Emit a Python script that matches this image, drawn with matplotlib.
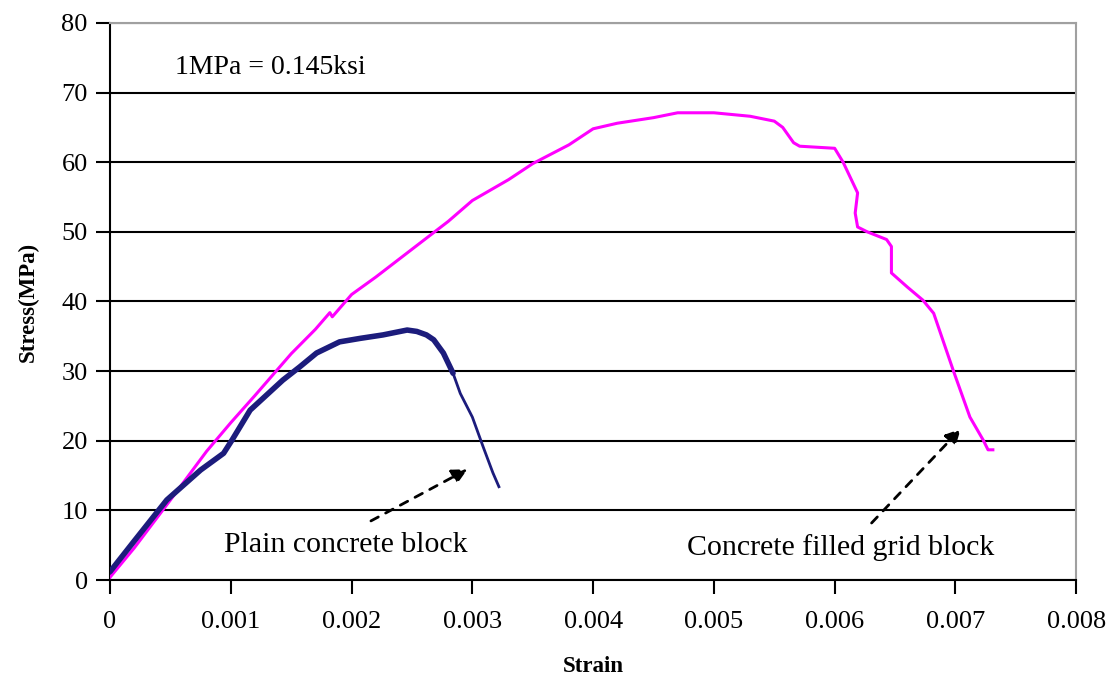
#stress strain curves of concrete blocks
import matplotlib
matplotlib.use("Agg")
import matplotlib.pyplot as plt

#concrete filled grid block
grid_strain = [0.0, 0.0002, 0.0005, 0.0008, 0.001, 0.0012, 0.0015, 0.0017, 0.00182, 0.00184,
               0.002, 0.0022, 0.0025, 0.0028, 0.003, 0.0033, 0.0035, 0.0038, 0.004, 0.0042,
               0.0045, 0.0047, 0.005, 0.0053, 0.0055, 0.00557, 0.00566, 0.00571, 0.0060, 0.00607,
               0.0061, 0.00619, 0.00617, 0.00619, 0.00627, 0.00643, 0.00647, 0.00647, 0.0066, 0.00673,
               0.00682, 0.00698, 0.00712, 0.00723, 0.00727, 0.00731]
grid_stress = [0.4, 4.6, 11.5, 18.5, 22.6, 26.5, 32.5, 36.0, 38.4, 37.8,
               41.0, 43.5, 47.5, 51.5, 54.5, 57.5, 59.8, 62.5, 64.8, 65.6,
               66.4, 67.1, 67.1, 66.6, 65.9, 65.0, 62.8, 62.3, 62.0, 60.0,
               58.9, 55.6, 52.7, 50.7, 50.0, 48.9, 47.9, 44.1, 42.1, 40.2,
               38.3, 30.2, 23.4, 20.1, 18.7, 18.7]

#plain concrete block
plain_strain = [0.0, 0.0002, 0.00047, 0.00075, 0.00094, 0.00101, 0.00116, 0.00143, 0.00157, 0.00171,
                0.0019, 0.00207, 0.00226, 0.00246, 0.00254, 0.00262, 0.00268, 0.00276, 0.00284, 0.0029,
                0.003, 0.00309, 0.00317, 0.00322]
plain_stress = [1.2, 5.6, 11.5, 15.8, 18.2, 20.1, 24.4, 28.7, 30.6, 32.6,
                34.2, 34.7, 35.2, 35.9, 35.7, 35.2, 34.5, 32.6, 29.7, 26.8,
                23.4, 19.1, 15.4, 13.4]
peak = 18  #after this index the line gets thinner

plt.rcParams['font.family'] = ['Liberation Serif', 'DejaVu Serif']

fig = plt.figure(figsize=(11.15, 6.75), dpi=100)
ax = fig.add_axes([0.0987, 0.1407, 0.8665, 0.8253])

ax.plot(grid_strain, grid_stress, color="#ff00ff", lw=2.2, zorder=3)
ax.plot(plain_strain[:peak + 1], plain_stress[:peak + 1], color="#1c1c7c", lw=4, zorder=4,
        solid_capstyle="round", solid_joinstyle="round")
ax.plot(plain_strain[peak:], plain_stress[peak:], color="#1c1c7c", lw=2, zorder=4)

ax.set_xlim(0, 0.008)
ax.set_ylim(0, 80)
ax.set_xticks([0, 0.001, 0.002, 0.003, 0.004, 0.005, 0.006, 0.007, 0.008])
ax.set_xticklabels(["0", "0.001", "0.002", "0.003", "0.004", "0.005", "0.006", "0.007", "0.008"])
ax.set_yticks(range(0, 90, 10))
ax.tick_params(axis="both", labelsize=19, length=10, width=1.5, direction="out", color="black")
ax.tick_params(axis="x", pad=12)
ax.tick_params(axis="y", pad=6)

ax.grid(axis="y", color="black", lw=1.5)
ax.set_axisbelow(True)
for s in ["top", "right"]:
    ax.spines[s].set_color("#a0a0a0")
    ax.spines[s].set_linewidth(1.5)
for s in ["left", "bottom"]:
    ax.spines[s].set_color("black")
    ax.spines[s].set_linewidth(1.5)

ax.set_xlabel("Strain", fontsize=16.5, fontweight="bold", labelpad=17)
ax.set_ylabel("Stress(MPa)", fontsize=16.5, fontweight="bold", labelpad=16)

ax.text(0.00054, 73.6, "1MPa = 0.145ksi", fontsize=20, va="center")

#arrows and labels
ax.annotate("", xy=(0.00298, 16.1), xytext=(0.00214, 8.3),
            arrowprops=dict(arrowstyle="-|>,head_length=0.9,head_width=0.45", color="black",
                            lw=2, linestyle=(0, (3, 3))))
ax.text(0.00195, 5.0, "Plain concrete block", fontsize=21.5, ha="center", va="center")

ax.annotate("", xy=(0.00706, 22.0), xytext=(0.00629, 7.9),
            arrowprops=dict(arrowstyle="-|>,head_length=0.9,head_width=0.45", color="black",
                            lw=2, linestyle=(0, (3, 3))))
ax.text(0.00605, 4.7, "Concrete filled grid block", fontsize=21.5, ha="center", va="center")

plt.savefig("out.png", dpi=100)
